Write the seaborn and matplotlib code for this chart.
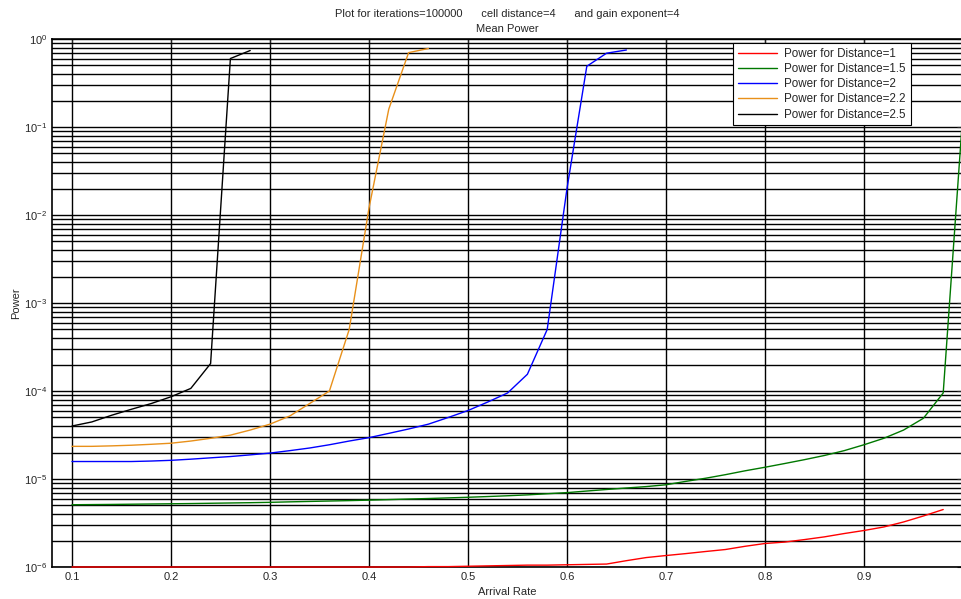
import numpy as np
import pandas as pd
import matplotlib
matplotlib.use("Agg")
import matplotlib.pyplot as plt
import seaborn as sns
from matplotlib.ticker import FixedLocator, NullFormatter, LogFormatterSciNotation

# arrival rates, step 0.02
rate_d1 = [0.10, 0.12, 0.14, 0.16, 0.18, 0.20, 0.22, 0.24, 0.26, 0.28,
           0.30, 0.32, 0.34, 0.36, 0.38, 0.40, 0.42, 0.44, 0.46, 0.48,
           0.50, 0.52, 0.54, 0.56, 0.58, 0.60, 0.62, 0.64, 0.66, 0.68,
           0.70, 0.72, 0.74, 0.76, 0.78, 0.80, 0.82, 0.84, 0.86, 0.88,
           0.90, 0.92, 0.94, 0.96, 0.98]
power_d1 = [1.0e-6, 1.0e-6, 1.0e-6, 1.0e-6, 1.0e-6, 1.0e-6, 1.0e-6, 1.0e-6, 1.0e-6, 1.0e-6,
            1.0e-6, 1.0e-6, 1.0e-6, 1.0e-6, 1.0e-6, 1.0e-6, 1.0e-6, 1.0e-6, 1.01e-6, 1.01e-6,
            1.02e-6, 1.03e-6, 1.04e-6, 1.05e-6, 1.05e-6, 1.06e-6, 1.07e-6, 1.08e-6, 1.18e-6, 1.28e-6,
            1.35e-6, 1.42e-6, 1.5e-6, 1.58e-6, 1.72e-6, 1.85e-6, 1.92e-6, 2.05e-6, 2.2e-6, 2.4e-6,
            2.6e-6, 2.85e-6, 3.25e-6, 3.8e-6, 4.5e-6]

rate_d15 = rate_d1 + [1.00]
power_d15 = [5.1e-6, 5.12e-6, 5.14e-6, 5.17e-6, 5.2e-6, 5.23e-6, 5.26e-6, 5.3e-6, 5.34e-6, 5.38e-6,
             5.43e-6, 5.5e-6, 5.56e-6, 5.62e-6, 5.68e-6, 5.75e-6, 5.83e-6, 5.92e-6, 6.0e-6, 6.1e-6,
             6.2e-6, 6.32e-6, 6.45e-6, 6.6e-6, 6.8e-6, 7.0e-6, 7.3e-6, 7.6e-6, 7.9e-6, 8.2e-6,
             8.6e-6, 9.4e-6, 1.02e-5, 1.12e-5, 1.24e-5, 1.36e-5, 1.5e-5, 1.66e-5, 1.85e-5, 2.1e-5,
             2.45e-5, 2.9e-5, 3.6e-5, 4.9e-5, 9.5e-5, 0.15]

rate_d2 = rate_d1[:29]
power_d2 = [1.58e-5, 1.58e-5, 1.58e-5, 1.58e-5, 1.6e-5, 1.63e-5, 1.68e-5, 1.74e-5, 1.8e-5, 1.88e-5,
            1.97e-5, 2.1e-5, 2.25e-5, 2.45e-5, 2.7e-5, 2.95e-5, 3.3e-5, 3.7e-5, 4.2e-5, 5.0e-5,
            6.0e-5, 7.5e-5, 9.5e-5, 1.55e-4, 5.0e-4, 0.02, 0.49, 0.69, 0.75]

rate_d22 = rate_d1[:19]
power_d22 = [2.35e-5, 2.35e-5, 2.38e-5, 2.42e-5, 2.48e-5, 2.55e-5, 2.7e-5, 2.9e-5, 3.15e-5, 3.6e-5,
             4.2e-5, 5.2e-5, 7.2e-5, 1.0e-4, 5.0e-4, 0.012, 0.16, 0.70, 0.78]

rate_d25 = rate_d1[:10]
power_d25 = [4.0e-5, 4.45e-5, 5.3e-5, 6.2e-5, 7.2e-5, 8.6e-5, 1.07e-4, 2.05e-4, 0.60, 0.74]

labels = ["Power for Distance=1", "Power for Distance=1.5", "Power for Distance=2",
          "Power for Distance=2.2", "Power for Distance=2.5"]
colors = ["#FF0000", "#007800", "#0000FF", "#E8901A", "#000000"]

x_ticks = [0.1, 0.2, 0.3, 0.4, 0.5, 0.6, 0.7, 0.8, 0.9]
y_decades = [1e-6, 1e-5, 1e-4, 1e-3, 1e-2, 1e-1, 1e0]

series = [(rate_d1, power_d1), (rate_d15, power_d15), (rate_d2, power_d2),
          (rate_d22, power_d22), (rate_d25, power_d25)]
df = pd.concat([pd.DataFrame({"rate": r, "power": p, "name": n})
                for (r, p), n in zip(series, labels)], ignore_index=True)

sns.set_style("white")
plt.rcParams["font.family"] = ["Liberation Sans", "DejaVu Sans"]
plt.rcParams["mathtext.fontset"] = "custom"
plt.rcParams["mathtext.rm"] = "Liberation Sans"
plt.rcParams["axes.unicode_minus"] = False

fig = plt.figure(figsize=(9.61, 5.99), dpi=100)
ax = fig.add_axes([52.2 / 961, 32 / 599, 910.8 / 961, 528 / 599])

sns.lineplot(data=df, x="rate", y="power", hue="name", palette=colors,
             estimator=None, sort=False, linewidth=1.0, ax=ax, legend=False, zorder=3)
for ln in ax.lines:
    ln.set_clip_on(False)

ax.set_yscale("log")
ax.set_xlim(0.08, 1.0)
ax.set_ylim(1e-6, 1e0)
ax.xaxis.set_major_locator(FixedLocator(x_ticks))
ax.set_xticklabels([f"{v:.1f}" for v in x_ticks])
ax.yaxis.set_major_locator(FixedLocator(y_decades))
ax.yaxis.set_major_formatter(LogFormatterSciNotation())
minor_y = [m * d for d in y_decades[:-1] for m in range(2, 10)]
ax.yaxis.set_minor_locator(FixedLocator(minor_y))
ax.yaxis.set_minor_formatter(NullFormatter())

ax.grid(True, which="major", axis="both", color="black", linewidth=1.0, linestyle="-")
ax.grid(True, which="minor", axis="y", color="black", linewidth=1.0, linestyle="-")
ax.tick_params(which="both", direction="in", top=True, right=True, labelsize=8, length=4, width=0.8)
ax.tick_params(which="minor", length=2)
for sp in ax.spines.values():
    sp.set_color("black")
    sp.set_linewidth(1.2)

ax.set_xlabel("Arrival Rate", fontsize=8, labelpad=4)
ax.set_ylabel("Power", fontsize=8, labelpad=2)
ax.set_title("Plot for iterations=100000      cell distance=4      and gain exponent=4\nMean Power",
             fontsize=8, pad=5, linespacing=1.6)

handles = [plt.Line2D([], [], color=c, linewidth=1.0) for c in colors]
leg = fig.legend(handles, labels, loc="upper left", bbox_to_anchor=(733 / 961, 1 - 43 / 599),
                 fontsize=8.4, frameon=True, fancybox=False, borderpad=0.4, labelspacing=0.28,
                 handlelength=3.4, handletextpad=0.6, borderaxespad=0)
leg.get_frame().set_edgecolor("black")
leg.get_frame().set_linewidth(0.8)
leg.get_frame().set_alpha(1)

fig.savefig("out.png", dpi=100)
